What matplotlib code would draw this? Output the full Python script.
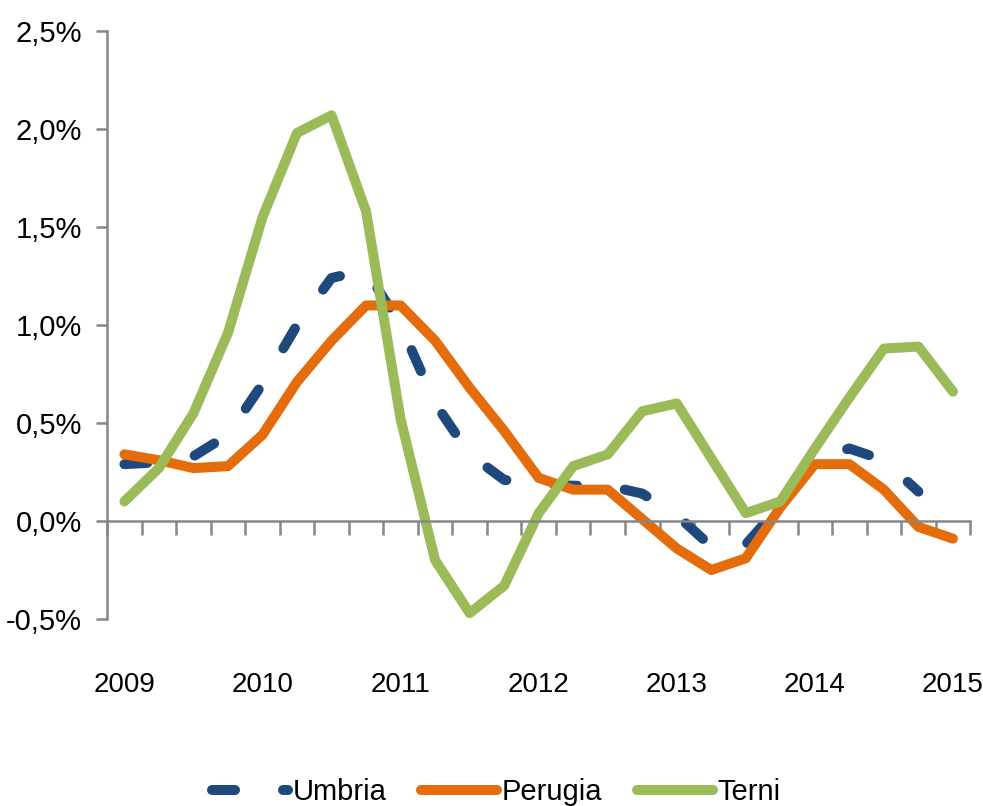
import numpy as np
import matplotlib
matplotlib.use('Agg')
import matplotlib.pyplot as plt

plt.rcParams['font.family'] = ['Liberation Sans', 'DejaVu Sans']

# variazioni trimestrali (%) dal 2009 T1 al 2015 T1
anni = ['2009', '2010', '2011', '2012', '2013', '2014', '2015']
umbria = [0.29, 0.30, 0.33, 0.44, 0.70, 1.00, 1.24, 1.28, 1.00, 0.60, 0.34, 0.21, 0.19,
          0.18, 0.18, 0.14, 0.03, -0.13, -0.12, 0.08, 0.32, 0.37, 0.31, 0.15, np.nan]
perugia = [0.34, 0.31, 0.27, 0.28, 0.44, 0.71, 0.92, 1.10, 1.10, 0.92, 0.68, 0.46, 0.22,
           0.16, 0.16, 0.01, -0.14, -0.25, -0.19, 0.07, 0.29, 0.29, 0.16, -0.03, -0.09]
terni = [0.10, 0.27, 0.55, 0.96, 1.55, 1.98, 2.07, 1.58, 0.52, -0.20, -0.47, -0.33, 0.04,
         0.28, 0.34, 0.56, 0.60, 0.32, 0.04, 0.10, 0.37, 0.63, 0.88, 0.89, 0.66]

grigio = '#868686'
fs = 21

fig, ax = plt.subplots(figsize=(9.83, 8.06), dpi=100)
fig.subplots_adjust(left=0.109, right=0.987, top=0.9615, bottom=0.232)

x = np.arange(len(terni))
ax.plot(x, umbria, color='#1F497D', lw=7.2, dashes=(2.3, 4.8),
        dash_capstyle='round', label='Umbria')
ax.plot(x, perugia, color='#E46C0A', lw=7.2, solid_capstyle='round', label='Perugia')
ax.plot(x, terni, color='#9BBB59', lw=7.2, solid_capstyle='round', label='Terni')

ax.set_xlim(-0.5, len(terni) - 0.5)
ax.set_ylim(-0.5, 2.5)

# assi
for s in ['top', 'right']:
    ax.spines[s].set_visible(False)
ax.spines['left'].set_color(grigio)
ax.spines['left'].set_linewidth(1.8)
ax.spines['bottom'].set_position(('data', 0))
ax.spines['bottom'].set_color(grigio)
ax.spines['bottom'].set_linewidth(1.8)

yt = np.arange(-0.5, 2.51, 0.5)
ax.set_yticks(yt)
ax.set_yticklabels([f'{v:.1f}%'.replace('.', ',') for v in yt], fontsize=fs)
ax.tick_params(axis='y', direction='out', length=8, width=1.8, color=grigio, pad=10)

ax.set_xticks(np.arange(-0.5, len(terni), 1))
ax.set_xticklabels([])
ax.tick_params(axis='x', direction='out', length=10, width=1.8, color=grigio)

# etichette degli anni sotto il grafico
for i, a in enumerate(anni):
    ax.text(i * 4, -0.09, a, transform=ax.get_xaxis_transform(),
            ha='center', va='top', fontsize=20)

fig.legend(loc='center', bbox_to_anchor=(0.505, 0.017), ncol=3, frameon=False,
           fontsize=fs, handlelength=2.6, handletextpad=0.15, columnspacing=1.2)

fig.savefig('out.png', dpi=100)
